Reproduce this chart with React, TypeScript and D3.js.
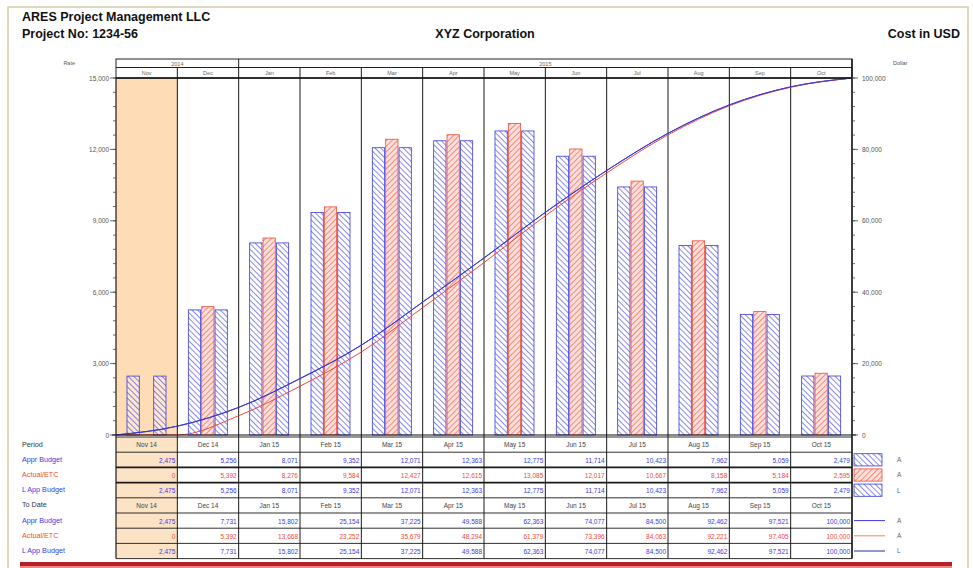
import React from "react";
import * as d3 from "d3";

const months = ["Nov 14", "Dec 14", "Jan 15", "Feb 15", "Mar 15", "Apr 15", "May 15", "Jun 15", "Jul 15", "Aug 15", "Sep 15", "Oct 15"];
const monthShort = ["Nov", "Dec", "Jan", "Feb", "Mar", "Apr", "May", "Jun", "Jul", "Aug", "Sep", "Oct"];
const years = [
  { label: "2014", from: 0, to: 2 },
  { label: "2015", from: 2, to: 12 },
];
const apprBudget = [2475, 5256, 8071, 9352, 12071, 12363, 12775, 11714, 10423, 7962, 5059, 2479];
const actualEtc = [0, 5392, 8276, 9584, 12427, 12615, 13085, 12017, 10667, 8158, 5184, 2595];
const lAppBudget = [2475, 5256, 8071, 9352, 12071, 12363, 12775, 11714, 10423, 7962, 5059, 2479];
const apprBudgetCum = [2475, 7731, 15802, 25154, 37225, 49588, 62363, 74077, 84500, 92462, 97521, 100000];
const actualEtcCum = [0, 5392, 13668, 23252, 35679, 48294, 61379, 73396, 84063, 92221, 97405, 100000];
const lAppBudgetCum = [2475, 7731, 15802, 25154, 37225, 49588, 62363, 74077, 84500, 92462, 97521, 100000];
const leftTicks = [0, 3000, 6000, 9000, 12000, 15000];
const rightTicks = [0, 20000, 40000, 60000, 80000, 100000];
const rowLabels = ["Period", "Appr Budget", "Actual/ETC", "L App Budget", "To Date", "Appr Budget", "Actual/ETC", "L App Budget"];
const currentIndex = 0;

const BLUE = "#3a3ae0";
const RED = "#ee4a3a";
const DBLUE = "#2a2aa8";
const ORANGE_BG = "#fddcb6";
const FONT = "'Liberation Sans', Arial, sans-serif";

export default function App() {
  const left = 116, right = 852, top = 78, bottom = 435;
  const x = d3.scaleBand<string>().domain(months).range([left, right]).paddingInner(0).paddingOuter(0);
  const bw = x.bandwidth();
  const inner = d3.scaleBand<string>().domain(["a", "b", "c"]).range([11, 50]).paddingInner(0.08);
  const yL = d3.scaleLinear().domain([0, 15000]).range([bottom, top]);
  const yR = d3.scaleLinear().domain([0, 100000]).range([bottom, top]);
  const fmt = d3.format(",");

  const tableTop = 437;
  const rowH = 15.2;
  const rowY = (i: number) => tableTop + i * rowH;

  const linePts = (cum: number[]) => [[left, 0] as [number, number]].concat(cum.map((v, i) => [(x(months[i]) as number) + bw, v] as [number, number]));
  const lineGen = d3.line<[number, number]>().x((d) => d[0]).y((d) => yR(d[1])).curve(d3.curveMonotoneX);

  const series = [
    { key: "a", vals: apprBudget, pat: "url(#hatchBlue)", stroke: BLUE },
    { key: "b", vals: actualEtc, pat: "url(#hatchRed)", stroke: RED },
    { key: "c", vals: lAppBudget, pat: "url(#hatchBlue)", stroke: BLUE },
  ];

  const minorTicks = d3.range(0, 15001, 600);
  const rowColors = ["#333", BLUE, RED, BLUE, "#333", BLUE, RED, BLUE];
  const rowData: (number[] | null)[] = [null, apprBudget, actualEtc, lAppBudget, null, apprBudgetCum, actualEtcCum, lAppBudgetCum];

  return (
    <svg width={973} height={568} style={{ position: "absolute", left: 0, top: 0, background: "#fff" }} fontFamily={FONT}>
      <defs>
        <pattern id="hatchBlue" patternUnits="userSpaceOnUse" width={4} height={4} patternTransform="rotate(-45)">
          <rect width={4} height={4} fill="rgba(255,255,255,0.35)" />
          <line x1={0} y1={0} x2={0} y2={4} stroke={BLUE} strokeWidth={1.2} />
        </pattern>
        <pattern id="hatchRed" patternUnits="userSpaceOnUse" width={4} height={4} patternTransform="rotate(45)">
          <rect width={4} height={4} fill="rgba(255,200,190,0.55)" />
          <line x1={0} y1={0} x2={0} y2={4} stroke={RED} strokeWidth={1.2} />
        </pattern>
      </defs>

      {/* outer frame */}
      <rect x={8} y={7} width={960} height={575} fill="none" stroke="#d4cba6" strokeWidth={1.5} />

      {/* titles */}
      <text x={22} y={21} fontSize={12.5} fontWeight="bold" fill="#111">ARES Project Management LLC</text>
      <text x={22} y={38} fontSize={12.5} fontWeight="bold" fill="#111">Project No: 1234-56</text>
      <text x={485} y={38} fontSize={12.5} fontWeight="bold" fill="#111" textAnchor="middle">XYZ Corporation</text>
      <text x={960} y={38} fontSize={12.5} fontWeight="bold" fill="#111" textAnchor="end">Cost in USD</text>

      {/* current period shading */}
      <rect x={x(months[currentIndex])} y={top} width={bw} height={bottom - top} fill={ORANGE_BG} />
      <rect x={x(months[currentIndex])} y={tableTop} width={bw} height={rowH * 8} fill="#fde3c6" />

      {/* header rows */}
      <rect x={left} y={59} width={right - left} height={top - 59} fill="none" stroke="#222" strokeWidth={1} />
      <line x1={left} x2={right} y1={67.5} y2={67.5} stroke="#222" strokeWidth={1} />
      {years.map((yv) => {
        const x0 = x(months[yv.from]) as number;
        const x1 = yv.to >= months.length ? right : (x(months[yv.to]) as number);
        return (
          <g key={yv.label}>
            <line x1={x1} x2={x1} y1={59} y2={67.5} stroke="#222" />
            <text x={(x0 + x1) / 2} y={65.5} fontSize={5.5} fill="#666" textAnchor="middle">{yv.label}</text>
          </g>
        );
      })}
      {monthShort.map((m, i) => (
        <text key={m} x={(x(months[i]) as number) + bw / 2} y={75} fontSize={5.5} fill="#666" textAnchor="middle">{m}</text>
      ))}

      {/* column lines */}
      {months.map((m, i) => (
        <line key={m} x1={(x(m) as number) + bw} x2={(x(m) as number) + bw} y1={67.5} y2={rowY(8)} stroke="#1a1a1a" strokeWidth={i === months.length - 1 ? 1.2 : 1} />
      ))}
      <line x1={left} x2={left} y1={top} y2={rowY(8)} stroke="#1a1a1a" strokeWidth={1.2} />

      {/* bars */}
      {series.map((s) =>
        s.vals.map((v, i) =>
          v > 0 ? (
            <rect key={s.key + i} x={(x(months[i]) as number) + (inner(s.key) as number)} y={yL(v)} width={inner.bandwidth()} height={bottom - yL(v)} fill={s.pat} stroke={s.stroke} strokeWidth={0.8} />
          ) : null
        )
      )}

      {/* cumulative lines */}
      <path d={lineGen(linePts(lAppBudgetCum)) || ""} fill="none" stroke={DBLUE} strokeWidth={1} />
      <path d={lineGen(linePts(actualEtcCum)) || ""} fill="none" stroke={RED} strokeWidth={1} />
      <path d={lineGen(linePts(apprBudgetCum)) || ""} fill="none" stroke={BLUE} strokeWidth={1} />

      {/* plot top & bottom lines */}
      <line x1={left} x2={right} y1={top} y2={top} stroke="#111" strokeWidth={1.3} />
      <line x1={left - 4} x2={right + 4} y1={bottom} y2={bottom} stroke="#111" strokeWidth={1.2} />

      {/* left axis */}
      <text x={75} y={65} fontSize={5.5} fill="#555" textAnchor="end">Rate</text>
      {minorTicks.map((t) => (
        <line key={"ml" + t} x1={left - 3} x2={left} y1={yL(t)} y2={yL(t)} stroke="#444" strokeWidth={0.8} />
      ))}
      {leftTicks.map((t) => (
        <g key={"l" + t}>
          <line x1={left - 6} x2={left} y1={yL(t)} y2={yL(t)} stroke="#444" strokeWidth={0.8} />
          <text x={left - 7} y={yL(t) + 2.5} fontSize={6.5} fill="#555" textAnchor="end">{fmt(t)}</text>
        </g>
      ))}

      {/* right axis */}
      <line x1={right} x2={right} y1={59} y2={rowY(8)} stroke="#1a1a1a" strokeWidth={1.2} />
      <text x={893} y={65} fontSize={5.5} fill="#555">Dollar</text>
      {minorTicks.map((t) => (
        <line key={"mr" + t} x1={right} x2={right + 3} y1={yL(t)} y2={yL(t)} stroke="#444" strokeWidth={0.8} />
      ))}
      {rightTicks.map((t) => (
        <g key={"r" + t}>
          <line x1={right} x2={right + 6} y1={yR(t)} y2={yR(t)} stroke="#444" strokeWidth={0.8} />
          <text x={right + 10} y={yR(t) + 2.5} fontSize={6.5} fill="#555">{fmt(t)}</text>
        </g>
      ))}

      {/* table */}
      {rowLabels.map((lab, r) => (
        <text key={"rl" + r} x={22} y={rowY(r) + 9.5} fontSize={7.2} fill={rowColors[r]}>{lab}</text>
      ))}
      {d3.range(9).map((r) => (
        <line key={"hl" + r} x1={left} x2={right} y1={rowY(r)} y2={rowY(r)} stroke="#1a1a1a" strokeWidth={r === 2 || r === 3 ? 1.6 : 0.9} />
      ))}
      {[0, 4].map((r) =>
        months.map((m) => (
          <text key={"h" + r + m} x={(x(m) as number) + bw / 2} y={rowY(r) + 10} fontSize={6.5} fill="#444" textAnchor="middle">{m}</text>
        ))
      )}
      {rowData.map((arr, r) =>
        arr
          ? arr.map((v, i) => (
              <text key={"v" + r + "-" + i} x={(x(months[i]) as number) + bw - 2} y={rowY(r) + 10.5} fontSize={6.5} fill={rowColors[r]} textAnchor="end">{fmt(v)}</text>
            ))
          : null
      )}

      {/* legend */}
      {[
        { r: 1, pat: "url(#hatchBlue)", stroke: BLUE, lab: "A" },
        { r: 2, pat: "url(#hatchRed)", stroke: RED, lab: "A" },
        { r: 3, pat: "url(#hatchBlue)", stroke: BLUE, lab: "L" },
      ].map((l) => (
        <g key={"lg" + l.r}>
          <rect x={right + 2} y={rowY(l.r) + 1.5} width={28} height={rowH - 3} fill={l.pat} stroke={l.stroke} strokeWidth={0.8} />
          <text x={right + 45} y={rowY(l.r) + 10} fontSize={6.5} fill="#666">{l.lab}</text>
        </g>
      ))}
      {[
        { r: 5, stroke: BLUE, lab: "A" },
        { r: 6, stroke: "#f08a50", lab: "A" },
        { r: 7, stroke: DBLUE, lab: "L" },
      ].map((l) => (
        <g key={"ll" + l.r}>
          <line x1={right + 2} x2={right + 33} y1={rowY(l.r) + rowH / 2} y2={rowY(l.r) + rowH / 2} stroke={l.stroke} strokeWidth={1} />
          <text x={right + 45} y={rowY(l.r) + 10} fontSize={6.5} fill="#666">{l.lab}</text>
        </g>
      ))}

      {/* bottom red rule */}
      <rect x={20} y={562} width={932} height={4} fill="#b52027" />
      <rect x={20} y={566} width={932} height={2} fill="#e88" />
    </svg>
  );
}
